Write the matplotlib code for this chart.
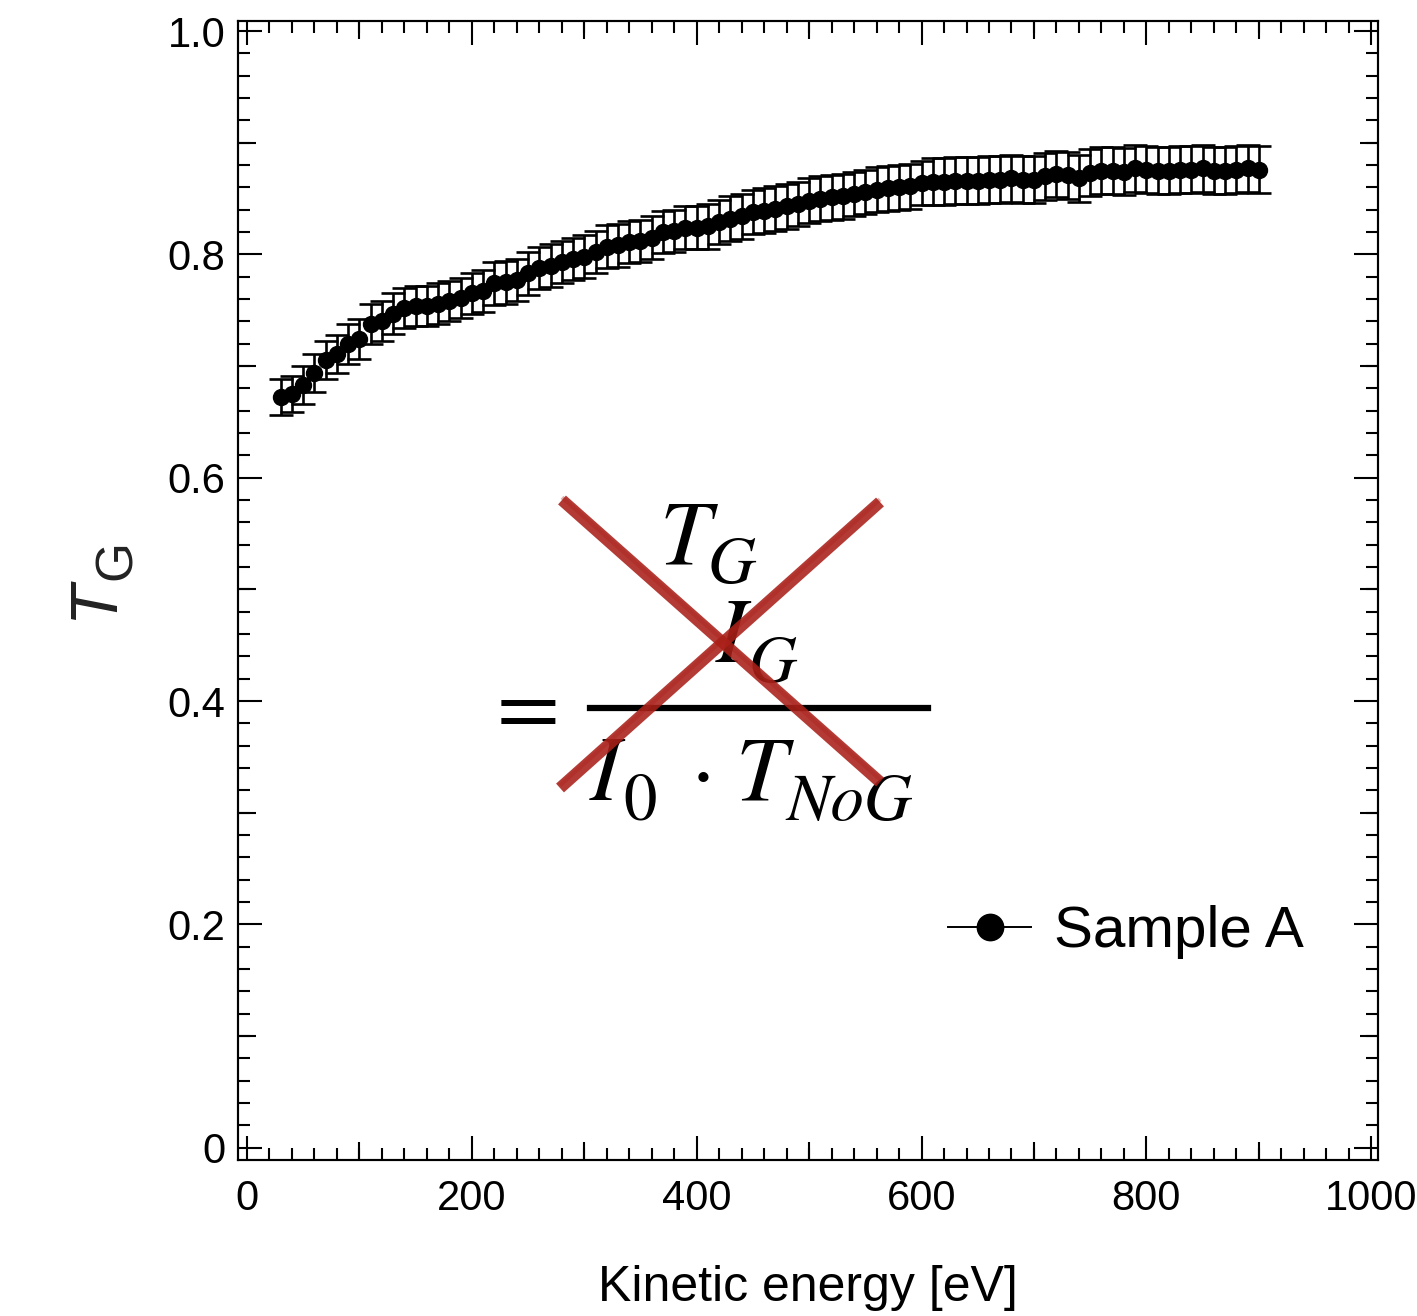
import matplotlib
matplotlib.use('Agg')
import matplotlib.pyplot as plt
from matplotlib.ticker import MultipleLocator, NullFormatter
from matplotlib.lines import Line2D

# ---------------- data ----------------
energy = [30, 40, 50, 60, 70, 80, 90, 100, 110, 120,
          130, 140, 150, 160, 170, 180, 190, 200, 210, 220,
          230, 240, 250, 260, 270, 280, 290, 300, 310, 320,
          330, 340, 350, 360, 370, 380, 390, 400, 410, 420,
          430, 440, 450, 460, 470, 480, 490, 500, 510, 520,
          530, 540, 550, 560, 570, 580, 590, 600, 610, 620,
          630, 640, 650, 660, 670, 680, 690, 700, 710, 720,
          730, 740, 750, 760, 770, 780, 790, 800, 810, 820,
          830, 840, 850, 860, 870, 880, 890, 900]
tg = [0.672, 0.675, 0.683, 0.694, 0.705, 0.711, 0.720, 0.724, 0.738, 0.740,
      0.747, 0.752, 0.754, 0.754, 0.756, 0.758, 0.761, 0.765, 0.767, 0.774,
      0.775, 0.777, 0.783, 0.788, 0.790, 0.793, 0.796, 0.798, 0.802, 0.807,
      0.808, 0.811, 0.812, 0.815, 0.820, 0.821, 0.824, 0.824, 0.825, 0.829,
      0.832, 0.834, 0.838, 0.839, 0.841, 0.843, 0.845, 0.848, 0.850, 0.851,
      0.852, 0.854, 0.856, 0.858, 0.859, 0.860, 0.861, 0.864, 0.865, 0.865,
      0.866, 0.866, 0.866, 0.867, 0.867, 0.868, 0.867, 0.867, 0.870, 0.872,
      0.871, 0.868, 0.873, 0.875, 0.875, 0.874, 0.877, 0.876, 0.875, 0.875,
      0.876, 0.876, 0.877, 0.875, 0.875, 0.876, 0.877, 0.876]
tg_err = [0.016, 0.016, 0.017, 0.017, 0.017, 0.017, 0.018, 0.018,
          0.018, 0.018, 0.018, 0.018, 0.018, 0.018, 0.018, 0.018, 0.018, 0.018,
          0.019, 0.019, 0.019, 0.019, 0.019, 0.019, 0.019, 0.019, 0.019, 0.019,
          0.019, 0.019, 0.019, 0.019, 0.019, 0.019, 0.019, 0.019, 0.019, 0.019,
          0.020, 0.020, 0.020, 0.020, 0.020, 0.020, 0.020, 0.020, 0.020, 0.020,
          0.020, 0.020, 0.020, 0.020, 0.020, 0.020, 0.020, 0.020, 0.020, 0.020,
          0.021, 0.021, 0.021, 0.021, 0.021, 0.021, 0.021, 0.021, 0.021, 0.021,
          0.021, 0.021, 0.021, 0.021, 0.021, 0.021, 0.021, 0.021, 0.021, 0.021,
          0.021, 0.021, 0.021, 0.021, 0.021, 0.021, 0.021, 0.021, 0.021, 0.021]
x_ticks = [0, 200, 400, 600, 800, 1000]
x_tick_labels = ['0', '200', '400', '600', '800', '1000']
x_mid_ticks = [100, 300, 500, 700, 900]
y_ticks = [0, 0.2, 0.4, 0.6, 0.8, 1.0]
y_tick_labels = ['0', '0.2', '0.4', '0.6', '0.8', '1.0']
y_mid_ticks = [0.1, 0.3, 0.5, 0.7, 0.9]
legend_label = 'Sample A'
x_label = 'Kinetic energy [eV]'

# ---------------- style ----------------
plt.rcParams['font.family'] = ['Liberation Sans', 'DejaVu Sans']

W, H = 1417, 1316
fig = plt.figure(figsize=(W / 100, H / 100), dpi=100)
ax = fig.add_axes([238 / W, 1 - 1160 / H, 1140 / W, 1139 / H])

ax.errorbar(energy, tg, yerr=tg_err, fmt='o', color='black', ms=11.5,
            elinewidth=1.9, capsize=8.3, capthick=1.9, zorder=3)

ax.set_xlim(-8, 1006)
ax.set_ylim(-0.011, 1.009)

ax.set_xticks(x_ticks)
ax.set_xticklabels(x_tick_labels)
ax.set_yticks(y_ticks)
ax.set_yticklabels(y_tick_labels)
ax.xaxis.set_minor_locator(MultipleLocator(20))
ax.yaxis.set_minor_locator(MultipleLocator(0.02))

for s in ax.spines.values():
    s.set_linewidth(1.5)

ax.tick_params(which='both', direction='in', top=True, right=True, width=1.5,
               labelsize=30, colors='black')
ax.tick_params(which='major', length=17)
ax.tick_params(which='minor', length=8.6)
ax.tick_params(axis='x', which='major', pad=14)
ax.tick_params(axis='y', which='major', pad=9)

# medium ticks (every 100 eV / 0.1)
for loc in ('bottom', 'top'):
    sx = ax.secondary_xaxis(loc)
    sx.set_xticks(x_mid_ticks)
    sx.xaxis.set_major_formatter(NullFormatter())
    sx.tick_params(direction='in', length=13, width=1.5)
    for s in sx.spines.values():
        s.set_linewidth(1.5)
for loc in ('left', 'right'):
    sy = ax.secondary_yaxis(loc)
    sy.set_yticks(y_mid_ticks)
    sy.yaxis.set_major_formatter(NullFormatter())
    sy.tick_params(direction='in', length=13, width=1.5)
    for s in sy.spines.values():
        s.set_linewidth(1.5)

ax.set_xlabel(x_label, fontsize=36)
ax.xaxis.set_label_coords(0.5, (1160 - 1301) / 1139)
ax.xaxis.label.set_va('baseline')


def fp(px, py):
    return (px / W, 1 - py / H)


# y-axis label T_G (italic T, subscript G), rotated
fig.text(*fp(112, 620), 'T', fontsize=48, style='italic', rotation=90,
         rotation_mode='anchor', ha='left', va='baseline', color='#222222')
fig.text(*fp(131, 580), 'G', fontsize=37, rotation=90,
         rotation_mode='anchor', ha='left', va='baseline', color='#222222')

# legend
handle = Line2D([], [], color='black', lw=1.4, marker='o', ms=19)
ax.legend([handle], [legend_label], loc='center left',
          bbox_to_anchor=(948 / W, 1 - 932 / H), bbox_transform=fig.transFigure,
          frameon=False, fontsize=42, handlelength=1.43, handletextpad=0.38,
          borderpad=0, borderaxespad=0)

# ---------------- formula overlay ----------------
big = 66
small = 48
ffam = 'STIXGeneral'


def piece(px, py, s, size, italic=True, ha='left'):
    fig.text(*fp(px, py), s, fontsize=size, family=ffam,
             style='italic' if italic else 'normal', ha=ha, va='baseline')


# numerator pieces
piece(660, 563, 'T', big)
piece(708, 583, 'G', small)
piece(716, 662, 'I', big)
piece(749, 682, 'G', small)
# equals sign
piece(497, 735, '=', big, italic=False)
# denominator
piece(590, 800, 'I', big)
piece(623, 820, '0', small, italic=False)
piece(703, 800, '\u00b7', big, italic=False, ha='center')
piece(736, 800, 'T', big)
piece(786, 820, 'NoG', small)

bx0, by0 = fp(590, 708)
bx1, _ = fp(928, 708)
fig.add_artist(Line2D([bx0, bx1], [by0, by0], transform=fig.transFigure,
                      color='black', lw=4.5, zorder=5))

# red cross
red = '#aa2019'
for (p0, p1) in (((562, 500), (880, 782)), ((880, 502), (560, 788))):
    a = fp(*p0)
    b = fp(*p1)
    fig.add_artist(Line2D([a[0], b[0]], [a[1], b[1]], transform=fig.transFigure,
                          color=red, lw=8.5, alpha=0.88, solid_capstyle='butt',
                          zorder=10))
    fig.add_artist(Line2D([a[0], b[0]], [a[1] + 0.002, b[1] + 0.002],
                          transform=fig.transFigure, color=red, lw=3,
                          alpha=0.35, solid_capstyle='butt', zorder=10))

fig.savefig('out.png', dpi=100)
